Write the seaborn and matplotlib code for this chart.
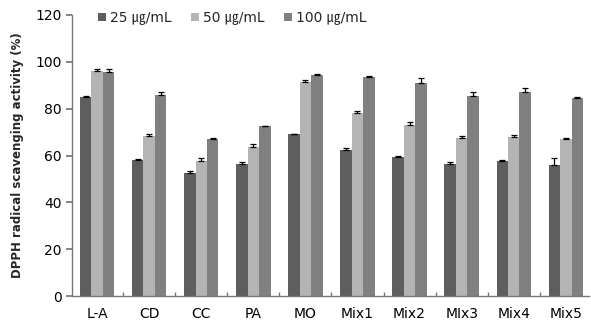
import numpy as np
import pandas as pd
import matplotlib
matplotlib.use("Agg")
import matplotlib.pyplot as plt
import seaborn as sns

sns.set_theme(style="white")
plt.rcParams["font.family"] = ["DejaVu Sans", "Noto Sans CJK KR"]

# ----------------------------------------------------------------------
# Data
# ----------------------------------------------------------------------
samples = ["L-A", "CD", "CC", "PA", "MO", "Mix1", "Mix2", "MIx3", "Mix4", "Mix5"]
doses = ["25 ㎍/mL", "50 ㎍/mL", "100 ㎍/mL"]

act_25 = [85.0, 58.0, 52.5, 56.5, 69.0, 62.5, 59.5, 56.5, 57.5, 56.0]
act_50 = [96.0, 68.5, 57.5, 63.5, 91.5, 78.0, 73.0, 67.5, 68.0, 67.0]
act_100 = [95.5, 86.0, 67.0, 72.5, 94.5, 93.5, 91.0, 85.5, 87.0, 84.5]

err_25 = [0.3, 0.5, 0.8, 0.8, 0.3, 0.8, 0.3, 0.8, 0.4, 2.8]
err_50 = [0.8, 0.5, 1.5, 1.3, 0.7, 1.0, 1.3, 0.8, 0.8, 0.3]
err_100 = [1.5, 1.2, 0.4, 0.3, 0.3, 0.3, 2.3, 1.8, 1.8, 0.3]

colors = ["#5e5e5e", "#b4b4b4", "#808080"]

df = pd.DataFrame({
    "sample": samples * 3,
    "dose": [d for d in doses for _ in samples],
    "activity": act_25 + act_50 + act_100,
    "err": err_25 + err_50 + err_100,
})

# ----------------------------------------------------------------------
# Plot
# ----------------------------------------------------------------------
fig = plt.figure(figsize=(5.91, 3.25), dpi=100)
ax = fig.add_axes([0.122, 0.089, 0.875, 0.865])

sns.barplot(data=df, x="sample", y="activity", hue="dose", order=samples,
            hue_order=doses, palette=colors, width=0.66, errorbar=None,
            saturation=1, linewidth=0, ax=ax, legend=True)

# upper-only error bars at the bar centres
for container, dose in zip(ax.containers, doses):
    sub = df[df["dose"] == dose].set_index("sample").loc[samples]
    xs = [p.get_x() + p.get_width() / 2 for p in container.patches]
    ax.errorbar(xs, sub["activity"], yerr=[np.zeros(len(xs)), sub["err"]],
                fmt="none", ecolor="black", elinewidth=0.9, capsize=2.5,
                capthick=0.9)

ax.set_ylim(0, 120)
ax.set_yticks(range(0, 121, 20))
ax.set_xlim(-0.48, 9.45)
ax.set_xlabel("")
ax.set_ylabel("DPPH radical scavenging activity (%)", fontsize=8.5,
              fontweight="bold", labelpad=8)

for s in ["top", "right"]:
    ax.spines[s].set_visible(False)
for s in ["left", "bottom"]:
    ax.spines[s].set_color("#777777")
    ax.spines[s].set_linewidth(1.0)

ax.set_xticks(np.arange(0.5, 9.5, 1), minor=True)
ax.tick_params(axis="x", which="major", length=0, labelsize=10, pad=8,
               colors="black")
ax.tick_params(axis="x", which="minor", direction="in", length=3,
               color="#777777", bottom=True)
ax.tick_params(axis="y", which="major", direction="out", length=4,
               color="#777777", left=True, labelsize=10, colors="black")

leg = ax.legend(loc="upper left", bbox_to_anchor=(0.04, 1.035), ncol=3,
                frameon=False, fontsize=10, handlelength=0.55,
                handleheight=0.55, handletextpad=0.3, columnspacing=1.4,
                borderaxespad=0)
for t in leg.get_texts():
    t.set_family(["DejaVu Sans", "Noto Sans CJK KR"])

fig.savefig("out.png", dpi=100)
